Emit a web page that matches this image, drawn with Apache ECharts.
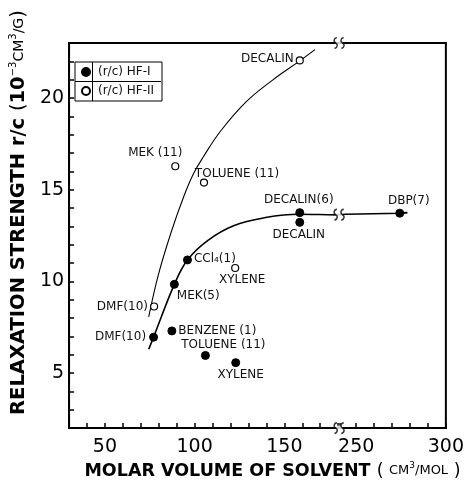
<!DOCTYPE html>
<html>
<head>
<meta charset="utf-8">
<script src="https://cdn.jsdelivr.net/npm/echarts@6.0.0/dist/echarts.min.js"></script>
<style>
html,body{margin:0;padding:0;background:#fff;}
#c{width:467px;height:485px;}
</style>
</head>
<body>
<div id="c"></div>
<script>
// ---- data ----
const hf1Names = ['DMF(10)', 'MEK(5)', 'CCl\u2084(1)', 'BENZENE (1)', 'TOLUENE (11)', 'XYLENE', 'DECALIN(6)', 'DECALIN', 'DBP(7)'];
const hf1X = [77.1, 88.7, 96.0, 87.3, 106.0, 122.9, 158.6, 158.6, 274.3];
const hf1Y = [6.96, 9.84, 11.17, 7.3, 5.96, 5.57, 13.75, 13.22, 13.72];

const hf2Names = ['DMF(10)', 'XYLENE', 'MEK (11)', 'TOLUENE (11)', 'DECALIN'];
const hf2X = [77.4, 122.6, 89.2, 105.2, 158.6];
const hf2Y = [8.63, 10.73, 16.28, 15.39, 22.05];

// hand-drawn guide curves (traced)
const curve1X = [74.4, 77.1, 88.7, 96.0, 107.4, 121.7, 139.5, 158.2, 179.4, 244.0, 274.6, 278.6];
const curve1Y = [6.3, 6.96, 9.84, 11.17, 12.24, 13.04, 13.48, 13.66, 13.63, 13.66, 13.72, 13.75];
const curve2X = [74.4, 79.8, 86.9, 94.0, 99.4, 104.7, 114.5, 128.8, 143.1, 158.2, 167.1];
const curve2Y = [8.07, 10.37, 12.68, 14.64, 15.88, 16.77, 18.2, 19.8, 20.95, 22.0, 22.64];

// axes
const xMin = 30, xMax = 300, xStep = 10;
const xBreakStart = 180, xBreakEnd = 241;
const xTickLabels = [50, 100, 150, 250, 300];
const yMin = 2, yMax = 23, yStep = 1;
const yTickLabels = [5, 10, 15, 20];
const legendNames = ['(r/c) HF-I', '(r/c) HF-II'];

// ---- label placement (style) ----
const hf1LabelPos = ['left', 'right', 'right', 'right', 'top', 'bottom', 'top', 'bottom', 'top'];
const hf1LabelOff = [[2, 0], [-7, 12], [-3, -1], [-3, 0], [18, 5], [5, -3], [-1, 3], [-1, -3], [9, 3]];
const hf2LabelPos = ['left', 'bottom', 'top', 'top', 'left'];
const hf2LabelOff = [[3, 0], [7, -3], [-20, 2], [33, 6], [3, -2]];

const labelFont = {fontFamily: 'DejaVu Sans', fontSize: 12, color: '#111'};

function pts(names, xs, ys, pos, off) {
  return xs.map((x, i) => ({
    value: [x, ys[i]],
    name: names[i],
    label: {show: true, position: pos[i], offset: off[i], formatter: names[i], ...labelFont}
  }));
}
function zip(xs, ys) { return xs.map((x, i) => [x, ys[i]]); }

const breakMid = (xBreakStart + xBreakEnd) / 2;
const breakCurveY = 13.64;
const breakPts = [[breakMid, yMax], [breakMid, yMin], [breakMid, breakCurveY]];
const sPath = 'path://M3,0 C0,1 0,4 2,5 C4,6 4,9 1,10 M9,0 C6,1 6,4 8,5 C10,6 10,9 7,10';

const chart = echarts.init(document.getElementById('c'), null, {renderer: 'canvas'});
chart.setOption({
  animation: false,
  backgroundColor: '#fff',
  grid: {left: 57, right: 13, top: 43, bottom: 52, show: true, borderColor: '#000', borderWidth: 2, backgroundColor: 'transparent'},
  legend: {
    data: legendNames,
    orient: 'vertical',
    left: 75, top: 62,
    padding: [2, 2, 2, 6],
    itemGap: 3,
    itemWidth: 8, itemHeight: 8,
    borderColor: '#000', borderWidth: 1,
    textStyle: {fontFamily: 'DejaVu Sans', fontSize: 12, color: '#111', width: 62, overflow: 'truncate', lineHeight: 16, padding: [0, 0, 0, 3]},
    selectedMode: false
  },
  graphic: [
    {type: 'line', shape: {x1: 92.5, y1: 62, x2: 92.5, y2: 101}, style: {stroke: '#000', lineWidth: 1}},
    {type: 'line', shape: {x1: 75, y1: 81.5, x2: 161, y2: 81.5}, style: {stroke: '#000', lineWidth: 1}}
  ],
  xAxis: {
    type: 'value', min: xMin, max: xMax, interval: xStep,
    breaks: [{start: xBreakStart, end: xBreakEnd, gap: '0.5%'}],
    breakArea: {show: false},
    axisLine: {show: true, lineStyle: {color: '#000', width: 2}},
    axisTick: {show: true, inside: true, length: 5, lineStyle: {color: '#000', width: 1.5}},
    splitLine: {show: false},
    axisLabel: {
      margin: 9, fontFamily: 'DejaVu Sans', fontSize: 19, color: '#000',
      showMinLabel: true, showMaxLabel: true,
      formatter: v => (xTickLabels.indexOf(Math.round(v)) >= 0 && Math.abs(v - Math.round(v)) < 1e-6) ? String(Math.round(v)) : ''
    },
    name: '{b|MOLAR VOLUME OF SOLVENT }{p|( }{s|CM}{u|3}{s|/MOL}{p| )}',
    nameLocation: 'middle', nameGap: 25,
    nameTextStyle: {
      rich: {
        b: {fontFamily: 'DejaVu Sans', fontWeight: 'bold', fontSize: 17.5, lineHeight: 20, color: '#000'},
        p: {fontFamily: 'DejaVu Sans', fontSize: 17.5, lineHeight: 20, color: '#000'},
        s: {fontFamily: 'DejaVu Sans', fontSize: 13, lineHeight: 20, color: '#000'},
        u: {fontFamily: 'DejaVu Sans', fontSize: 9, lineHeight: 12, verticalAlign: 'top', color: '#000'}
      },
      padding: [0, 0, 0, 30]
    }
  },
  yAxis: {
    type: 'value', min: yMin, max: yMax, interval: yStep,
    axisLine: {show: true, lineStyle: {color: '#000', width: 2}},
    axisTick: {show: true, inside: true, length: 5, lineStyle: {color: '#000', width: 1.5}},
    splitLine: {show: false},
    axisLabel: {
      margin: 5, fontFamily: 'DejaVu Sans', fontSize: 19, color: '#000',
      formatter: v => yTickLabels.indexOf(v) >= 0 ? String(v) : ''
    },
    name: '{b|RELAXATION STRENGTH r/c }{p|(}{b|10}{u|\u22123}{s|CM}{u|3}{s|/G}{p|)}',
    nameLocation: 'middle', nameGap: 27,
    nameTextStyle: {
      rich: {
        b: {fontFamily: 'DejaVu Sans', fontWeight: 'bold', fontSize: 19.5, lineHeight: 22, color: '#000'},
        p: {fontFamily: 'DejaVu Sans', fontSize: 19.5, lineHeight: 22, color: '#000'},
        s: {fontFamily: 'DejaVu Sans', fontSize: 14, lineHeight: 22, color: '#000'},
        u: {fontFamily: 'DejaVu Sans', fontSize: 10, lineHeight: 12, verticalAlign: 'top', color: '#000'}
      },
      padding: [0, 0, 0, 46]
    }
  },
  series: [
    {
      type: 'line', name: 'curve HF-I', data: zip(curve1X, curve1Y), smooth: 0.4,
      showSymbol: false, symbol: 'none', lineStyle: {color: '#000', width: 1.6}, z: 1, silent: true
    },
    {
      type: 'line', name: 'curve HF-II', data: zip(curve2X, curve2Y), smooth: 0.4,
      showSymbol: false, symbol: 'none', lineStyle: {color: '#000', width: 1.1}, z: 1, silent: true
    },
    {
      type: 'scatter', name: legendNames[0], symbol: 'circle', symbolSize: 8,
      itemStyle: {color: '#000', borderColor: '#000', borderWidth: 1, opacity: 1},
      data: pts(hf1Names, hf1X, hf1Y, hf1LabelPos, hf1LabelOff), z: 3
    },
    {
      type: 'scatter', name: legendNames[1], symbol: 'circle', symbolSize: 7,
      itemStyle: {color: '#fff', borderColor: '#000', borderWidth: 1.2, opacity: 1},
      data: pts(hf2Names, hf2X, hf2Y, hf2LabelPos, hf2LabelOff), z: 3
    },
    {
      type: 'scatter', name: 'breakGap', symbol: 'rect', symbolSize: [7, 5], clip: false,
      itemStyle: {color: '#fff'}, data: breakPts, z: 4, silent: true
    },
    {
      type: 'scatter', name: 'breakMark', symbol: sPath, symbolSize: [10, 11], clip: false,
      itemStyle: {color: 'rgba(0,0,0,0)', borderColor: '#000', borderWidth: 1.6}, data: breakPts, z: 5, silent: true
    }
  ]
});
</script>
</body>
</html>
